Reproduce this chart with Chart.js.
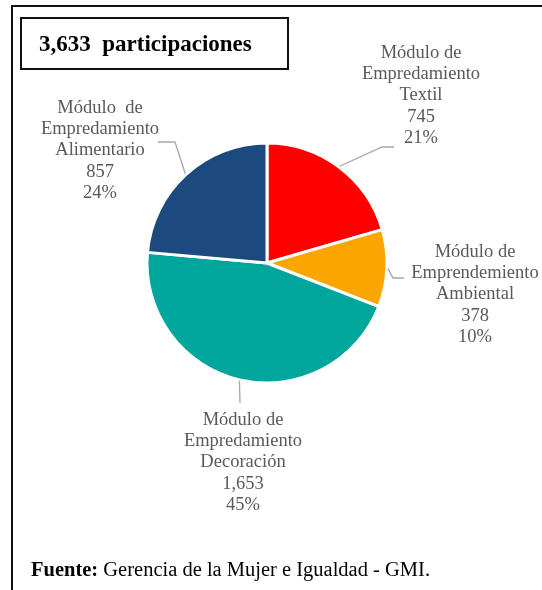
<!DOCTYPE html>
<html>
<head>
<meta charset="utf-8">
<script src="https://cdn.jsdelivr.net/npm/chart.js@4"></script>
<style>
    html, body { margin: 0; padding: 0; background: #fff; }
    body { width: 542px; height: 590px; position: relative; overflow: hidden; }
    #frame {
        position: absolute; left: 11px; top: 5px; width: 620px; height: 640px;
        border: 2px solid #111; box-sizing: border-box;
    }
    #chartWrap { position: absolute; left: 0; top: 0; width: 542px; height: 590px; }
    #titleBox {
        position: absolute; left: 20px; top: 17px; width: 269px; height: 53px;
        border: 2px solid #111; box-sizing: border-box;
        font: bold 23px "Liberation Serif", serif; color: #000;
        line-height: 50px; padding-left: 17px; white-space: pre;
    }
    #source {
        position: absolute; left: 31px; top: 558px;
        font: 20.5px "Liberation Serif", serif; color: #000; white-space: pre;
    }
</style>
</head>
<body>
<div id="frame"></div>
<div id="chartWrap"><canvas id="pieChart" width="542" height="590"></canvas></div>
<div id="titleBox">3,633  participaciones</div>
<div id="source"><b>Fuente:</b> Gerencia de la Mujer e Igualdad - GMI.</div>

<script>
// Data
const categories = [
    ['Módulo de', 'Empredamiento', 'Textil'],
    ['Módulo de', 'Emprendemiento', 'Ambiental'],
    ['Módulo de', 'Empredamiento', 'Decoración'],
    ['Módulo  de', 'Empredamiento', 'Alimentario']
];
const participants = [745, 378, 1653, 857];
const sliceColors = ['#ff0000', '#fba600', '#00a59b', '#1c4a7f'];

// Where each label sits and how its leader line bends (screen px)
const labelLayout = [
    { x: 421, y: 53, path: [[382, 147], [394, 147]] },
    { x: 475, y: 252, path: [[393, 278], [404, 278]] },
    { x: 243, y: 420, path: [[240, 403]] },
    { x: 100, y: 108, path: [[175, 142], [158, 142]] }
];

const pieLabels = {
    id: 'pieLabels',
    afterDatasetsDraw(chart) {
        const ctx = chart.ctx;
        const meta = chart.getDatasetMeta(0);
        const values = chart.data.datasets[0].data;
        const total = values.reduce((s, v) => s + v, 0);

        meta.data.forEach((arc, i) => {
            const mid = (arc.startAngle + arc.endAngle) / 2;
            const r = arc.outerRadius + 1;
            const sx = arc.x + Math.cos(mid) * r;
            const sy = arc.y + Math.sin(mid) * r;
            const lay = labelLayout[i];

            // leader line
            ctx.save();
            ctx.strokeStyle = '#a6a6a6';
            ctx.lineWidth = 1.3;
            ctx.beginPath();
            ctx.moveTo(sx, sy);
            lay.path.forEach(p => ctx.lineTo(p[0], p[1]));
            ctx.stroke();

            // label text
            const lines = categories[i].concat([
                values[i].toLocaleString('en-US'),
                Math.round(values[i] / total * 100) + '%'
            ]);
            ctx.fillStyle = '#595959';
            ctx.font = '18.5px "Liberation Serif", serif';
            ctx.textAlign = 'center';
            ctx.textBaseline = 'middle';
            lines.forEach((line, k) => {
                ctx.fillText(line, lay.x, lay.y + k * 21.3);
            });
            ctx.restore();
        });
    }
};

new Chart(document.getElementById('pieChart'), {
    type: 'pie',
    data: {
        labels: categories.map(c => c.join(' ')),
        datasets: [{
            data: participants,
            backgroundColor: sliceColors,
            borderColor: '#ffffff',
            borderWidth: 3,
            radius: 120
        }]
    },
    options: {
        responsive: false,
        animation: false,
        events: [],
        layout: { padding: { left: 100, right: 108, top: 100, bottom: 164 } },
        plugins: {
            legend: { display: false },
            tooltip: { enabled: false }
        }
    },
    plugins: [pieLabels]
});
</script>
</body>
</html>
